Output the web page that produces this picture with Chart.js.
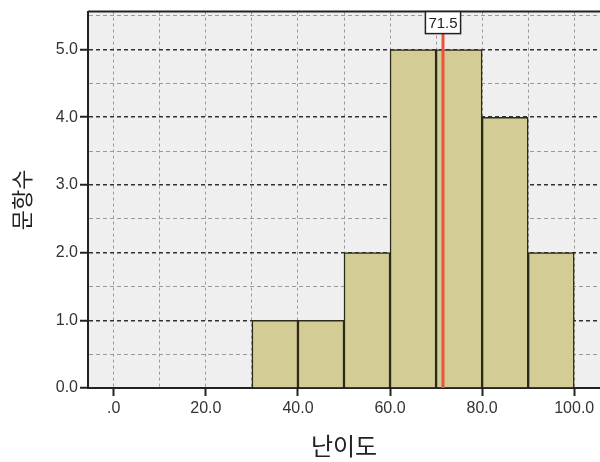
<!DOCTYPE html>
<html>
<head>
<meta charset="utf-8">
<script src="https://cdn.jsdelivr.net/npm/chart.js@4/dist/chart.umd.min.js"></script>
<style>
  html, body { margin: 0; padding: 0; background: #fff; }
  #wrap { width: 600px; height: 462px; }
</style>
</head>
<body>
<div id="wrap"><canvas id="histogram" width="600" height="462"></canvas></div>
<script>
// bin centers (width 10) and counts
let binCenters = [35, 45, 55, 65, 75, 85, 95];
let counts = [1, 1, 2, 5, 5, 4, 2];
let meanValue = 71.5;  // red reference line
let xTickValues = [0, 10, 20, 30, 40, 50, 60, 70, 80, 90, 100];
let yTickValues = [0, 0.5, 1, 1.5, 2, 2.5, 3, 3.5, 4, 4.5, 5, 5.5];

let ctx = document.getElementById('histogram');
let points = binCenters.map((c, i) => ({ x: c, y: counts[i] }));


// plot background, top frame line, mean line with label box
const framePlugin = {
  id: 'frame',
  beforeDraw(chart) {
    const c = chart.ctx, a = chart.chartArea;
    c.save();
    c.fillStyle = '#efefef';
    c.fillRect(a.left, a.top, a.right - a.left, a.bottom - a.top);
    c.restore();
  },
  afterDatasetsDraw(chart) {
    const c = chart.ctx, a = chart.chartArea;
    const x = chart.scales.x.getPixelForValue(meanValue);
    c.save();
    c.strokeStyle = '#222';
    c.lineWidth = 2;
    c.beginPath();
    c.moveTo(a.left, a.top);
    c.lineTo(a.right, a.top);
    c.stroke();

    c.strokeStyle = '#e8553c';
    c.lineWidth = 3;
    c.beginPath();
    c.moveTo(x, a.top + 20);
    c.lineTo(x, a.bottom);
    c.stroke();

    c.font = '15px "Liberation Sans", Arial, sans-serif';
    const label = meanValue.toFixed(1);
    const w = c.measureText(label).width + 6;
    c.fillStyle = '#fff';
    c.fillRect(x - w / 2, a.top, w, 22);
    c.strokeStyle = '#222';
    c.lineWidth = 1.5;
    c.strokeRect(x - w / 2, a.top, w, 22);
    c.fillStyle = '#222';
    c.textAlign = 'center';
    c.textBaseline = 'middle';
    c.fillText(label, x, a.top + 12);
    c.restore();
  }
};


new Chart(ctx, {
  type: 'bar',
  data: {
    datasets: [{
      data: points,
      backgroundColor: '#d3cc95',
      borderColor: '#2c2a1a',
      borderWidth: 1.5,
      barPercentage: 1,
      categoryPercentage: 1
    }]
  },
  plugins: [framePlugin],
  options: {
    responsive: false,
    animation: false,
    layout: { padding: { top: 10, right: 0, left: 0, bottom: 0 } },
    plugins: {
      legend: { display: false },
      tooltip: { enabled: false }
    },
    scales: {
      x: {
        type: 'linear',
        min: -5.6,
        max: 105.6,
        offset: false,
        afterBuildTicks: (scale) => { scale.ticks = xTickValues.map(v => ({ value: v })); },
        afterFit: (scale) => { scale.height = 74; },
        ticks: {
          autoSkip: false,
          maxRotation: 0,
          padding: 3,
          color: '#333',
          font: { family: '"Liberation Sans", Arial, sans-serif', size: 16 },
          callback: (v) => v % 20 !== 0 ? '' : (v === 0 ? '.0' : v.toFixed(1))
        },
        grid: {
          offset: false,
          color: '#9a9a9a',
          lineWidth: 1,
          tickLength: 8,
          tickColor: (c) => c.tick && c.tick.value % 20 === 0 ? '#222' : 'rgba(0,0,0,0)',
          tickWidth: 2
        },
        border: { display: true, color: '#222', width: 2, dash: [3, 3] },
        title: {
          display: true,
          text: '난이도',
          color: '#222',
          font: { family: '"Noto Sans CJK KR", sans-serif', size: 24 },
          padding: { top: 0, bottom: 2 }
        }
      },
      y: {
        min: 0,
        max: 5.56,
        afterBuildTicks: (scale) => { scale.ticks = yTickValues.map(v => ({ value: v })); },
        afterFit: (scale) => { scale.width = 88; },
        ticks: {
          autoSkip: false,
          padding: 2,
          color: '#333',
          font: { family: '"Liberation Sans", Arial, sans-serif', size: 16 },
          callback: (v) => Number.isInteger(v) ? v.toFixed(1) : ''
        },
        grid: {
          color: (c) => c.tick && Number.isInteger(c.tick.value) ? '#333' : '#9a9a9a',
          lineWidth: (c) => c.tick && Number.isInteger(c.tick.value) ? 1.5 : 1,
          tickLength: 8,
          tickColor: (c) => c.tick && Number.isInteger(c.tick.value) ? '#222' : 'rgba(0,0,0,0)',
          tickWidth: 2
        },
        border: { display: true, color: '#222', width: 2, dash: [4, 3] },
        title: {
          display: true,
          text: '문항수',
          color: '#222',
          font: { family: '"Noto Sans CJK KR", sans-serif', size: 22 },
          padding: { top: 8, bottom: 10 }
        }
      }
    }
  }
});
</script>
</body>
</html>
